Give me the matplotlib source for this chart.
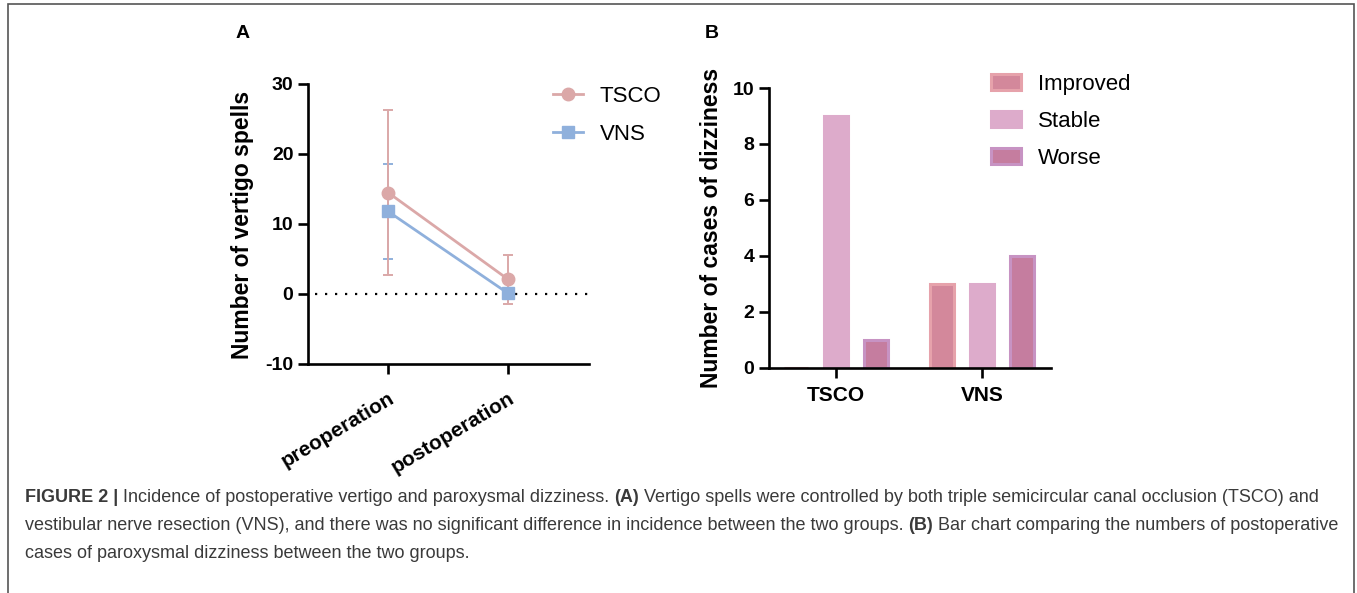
import matplotlib
matplotlib.use("Agg")
import matplotlib.pyplot as plt
from matplotlib.patches import Rectangle
from matplotlib.lines import Line2D

plt.rcParams['font.family'] = ['Liberation Sans', 'DejaVu Sans']
plt.rcParams['axes.unicode_minus'] = False

# panel A data
timepoints = ['preoperation', 'postoperation']
tsco_mean = [14.5, 2.1]
tsco_sd = [11.8, 3.5]
vns_mean = [11.8, 0.1]
vns_sd = [6.8, 0.0]

# panel B data
groups = ['TSCO', 'VNS']
outcomes = ['Improved', 'Stable', 'Worse']
improved = [0, 3]
stable = [9, 3]
worse = [1, 4]

c_tsco = '#dba8a8'
c_vns = '#8fb0dc'
bar_fill = ['#d3889b', '#ddabcb', '#c57d9f']
bar_edge = ['#e6a2ab', '#ddabcb', '#c793c3']

W, H = 1357, 593
fig = plt.figure(figsize=(W / 100, H / 100), dpi=100)

def box(l, r, t, b):
    return [l / W, 1 - b / H, (r - l) / W, (b - t) / H]

def style(ax):
    for s in ['top', 'right']:
        ax.spines[s].set_visible(False)
    for s in ['left', 'bottom']:
        ax.spines[s].set_linewidth(1.9)
    ax.tick_params(width=1.9, length=7, labelsize=14)
    for lab in ax.get_yticklabels() + ax.get_xticklabels():
        lab.set_fontweight('bold')

# ---- panel A
axA = fig.add_axes(box(308, 589, 84, 364))
xs = list(range(len(timepoints)))
axA.axhline(0, xmin=0.025, xmax=1, color='black', lw=1.6, ls=(0, (1, 3.5)), zorder=1)
axA.errorbar(xs, vns_mean, yerr=vns_sd, color=c_vns, fmt='none',
             elinewidth=1.4, capsize=3.5, capthick=1.4, zorder=2)
axA.errorbar(xs, tsco_mean, yerr=tsco_sd, color=c_tsco, fmt='none',
             elinewidth=1.4, capsize=3.5, capthick=1.4, zorder=3)
axA.plot(xs, tsco_mean, color=c_tsco, marker='o', ms=9, lw=2, zorder=4)
axA.plot(xs, vns_mean, color=c_vns, marker='s', ms=9, lw=2, zorder=5)
axA.set_xlim(-0.667, 1.675)
axA.set_ylim(-10, 30)
axA.set_yticks([-10, 0, 10, 20, 30])
axA.set_yticklabels(['-10', '0', '10', '20', '30'])
axA.set_xticks(xs)
axA.set_xticklabels(timepoints, rotation=31, ha='right', rotation_mode='anchor')
style(axA)
axA.tick_params(axis='x', labelsize=15, pad=11)
handles = [Line2D([], [], color=c_tsco, marker='o', ms=9, lw=2),
           Line2D([], [], color=c_vns, marker='s', ms=9, lw=2)]
axA.legend(handles, ['TSCO', 'VNS'], loc='upper left', bbox_to_anchor=(553 / W, 1 - 86 / H),
           bbox_transform=fig.transFigure, frameon=False, fontsize=16, borderpad=0,
           borderaxespad=0, handlelength=1.35, handletextpad=0.75, labelspacing=0.75)

# ---- panel B
axB = fig.add_axes(box(769, 1051, 88, 368))
off = 0.274
bw = 0.165
for i, vals in enumerate([improved, stable, worse]):
    axB.bar([g + (i - 1) * off for g in range(len(groups))], vals, width=bw,
            color=bar_fill[i], edgecolor=bar_edge[i], linewidth=2.2, label=outcomes[i], zorder=2)
axB.set_xlim(-0.459, 1.473)
axB.set_ylim(0, 10)
axB.set_yticks([0, 2, 4, 6, 8, 10])
axB.set_xticks(range(len(groups)))
axB.set_xticklabels(groups)
style(axB)
axB.tick_params(axis='x', labelsize=15, pad=6)
axB.legend(loc='upper left', bbox_to_anchor=(991 / W, 1 - 74 / H), bbox_transform=fig.transFigure,
           frameon=False, fontsize=16, borderpad=0, borderaxespad=0, handlelength=1.35,
           handleheight=0.75, handletextpad=0.75, labelspacing=0.72)

# labels
fig.text(243 / W, 1 - 33 / H, 'A', fontsize=14, fontweight='bold', ha='center', va='center')
fig.text(712 / W, 1 - 33 / H, 'B', fontsize=14, fontweight='bold', ha='center', va='center')
fig.text(243 / W, 1 - 225 / H, 'Number of vertigo spells', rotation=90, fontsize=16.5,
         fontweight='bold', ha='center', va='center')
fig.text(711 / W, 1 - 228 / H, 'Number of cases of dizziness', rotation=90, fontsize=16.5,
         fontweight='bold', ha='center', va='center')

# frame
fig.patches.append(Rectangle((8 / W, -0.05), (1354 - 8) / W, 1.05 - 4 / H,
                             transform=fig.transFigure, fill=False, ec='#555555', lw=1.2))

# caption
caption = [
    [('FIGURE 2 |', 'bold'), (' Incidence of postoperative vertigo and paroxysmal dizziness. ', 'normal'),
     ('(A)', 'bold'), (' Vertigo spells were controlled by both triple semicircular canal occlusion (TSCO) and', 'normal')],
    [('vestibular nerve resection (VNS), and there was no significant difference in incidence between the two groups. ', 'normal'),
     ('(B)', 'bold'), (' Bar chart comparing the numbers of postoperative', 'normal')],
    [('cases of paroxysmal dizziness between the two groups.', 'normal')],
]
r = fig.canvas.get_renderer()
for k, line in enumerate(caption):
    x = 25 / W
    y = 1 - (497 + 28 * k) / H
    for s, w in line:
        t = fig.text(x, y, s, fontsize=13, fontweight=w, color='#3a3a3a', ha='left', va='center')
        x = t.get_window_extent(r).x1 / W

fig.savefig('out.png', dpi=100)
